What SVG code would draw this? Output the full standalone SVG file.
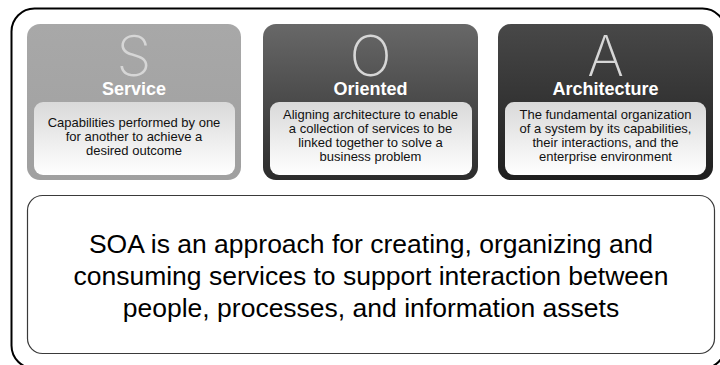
<svg xmlns="http://www.w3.org/2000/svg" width="720" height="365" viewBox="0 0 720 365">
<defs>
<linearGradient id="gInner" x1="0" y1="0" x2="0" y2="1">
<stop offset="0" stop-color="#d9d9d9"/>
<stop offset="1" stop-color="#ffffff"/>
</linearGradient>
<linearGradient id="gS" x1="0" y1="0" x2="0" y2="1">
<stop offset="0" stop-color="#a8a8a8"/>
<stop offset="1" stop-color="#a0a0a0"/>
</linearGradient>
<linearGradient id="gO" x1="0" y1="0" x2="0" y2="1">
<stop offset="0" stop-color="#686868"/>
<stop offset="1" stop-color="#2c2c2c"/>
</linearGradient>
<linearGradient id="gA" x1="0" y1="0" x2="0" y2="1">
<stop offset="0" stop-color="#484848"/>
<stop offset="1" stop-color="#1f1f1f"/>
</linearGradient>
</defs>
<style>
.big{font-family:Inter,"Liberation Sans",Arial,sans-serif;font-size:56px;font-weight:200;fill:#d6d6d6;text-anchor:middle}
.title{font-family:"Liberation Sans",Arial,sans-serif;font-size:18px;font-weight:bold;fill:#ffffff;text-anchor:middle}
.desc{font-family:"Liberation Sans",Arial,sans-serif;font-size:13px;fill:#111111;text-anchor:middle}
.main{font-family:"Liberation Sans",Arial,sans-serif;font-size:26.5px;fill:#000000;text-anchor:middle}
.inner{fill:url(#gInner)}
</style>
<rect x="0" y="0" width="720" height="365" fill="#ffffff"/>
<g id="frame">
<rect x="11.5" y="8.5" width="714" height="360" rx="23" ry="23" fill="none" stroke="#000000" stroke-width="2"/>
</g>
<g id="service">
<rect x="27" y="24" width="214" height="156" rx="13" fill="url(#gS)"/>
<rect x="34" y="102" width="201" height="73" rx="9" class="inner"/>
<text class="big" x="134" y="76">S</text>
<text class="title" x="134" y="95">Service</text>
<text class="desc" x="134" y="127">Capabilities performed by one</text>
<text class="desc" x="134" y="141">for another to achieve a</text>
<text class="desc" x="134" y="155">desired outcome</text>
</g>
<g id="oriented">
<rect x="263" y="24" width="215" height="156" rx="13" fill="url(#gO)"/>
<rect x="270" y="102" width="202" height="73" rx="9" class="inner"/>
<text class="big" x="370.5" y="76">O</text>
<text class="title" x="370.5" y="95">Oriented</text>
<text class="desc" x="370.5" y="119">Aligning architecture to enable</text>
<text class="desc" x="370.5" y="133">a collection of services to be</text>
<text class="desc" x="370.5" y="147">linked together to solve a</text>
<text class="desc" x="370.5" y="161">business problem</text>
</g>
<g id="architecture">
<rect x="498" y="24" width="215" height="156" rx="13" fill="url(#gA)"/>
<rect x="505" y="102" width="201" height="73" rx="9" class="inner"/>
<text class="big" x="605.5" y="76">A</text>
<text class="title" x="605.5" y="95">Architecture</text>
<text class="desc" x="605.5" y="119">The fundamental organization</text>
<text class="desc" x="605.5" y="133">of a system by its capabilities,</text>
<text class="desc" x="605.5" y="147">their interactions, and the</text>
<text class="desc" x="605.5" y="161">enterprise environment</text>
</g>
<g id="definition">
<rect x="27.5" y="195.5" width="687" height="158" rx="15" fill="#ffffff" stroke="#3a3a3a" stroke-width="1.2"/>
<text class="main" x="371" y="253">SOA is an approach for creating, organizing and</text>
<text class="main" x="371" y="285">consuming services to support interaction between</text>
<text class="main" x="371" y="317">people, processes, and information assets</text>
</g>
<g id="connectors"/>
</svg>
